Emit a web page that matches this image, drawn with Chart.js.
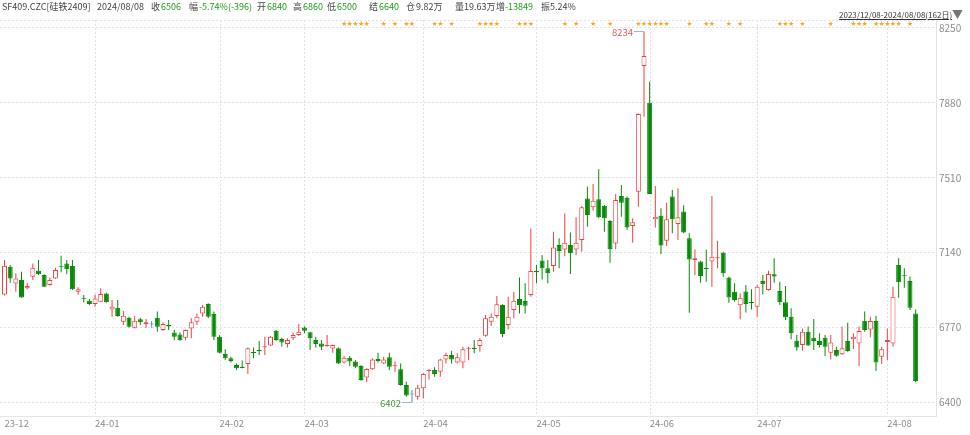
<!DOCTYPE html>
<html>
<head>
<meta charset="utf-8">
<script src="https://cdn.jsdelivr.net/npm/chart.js@4.4.1/dist/chart.umd.min.js"></script>
<style>
    html, body { margin: 0; padding: 0; background: #fff; }
    #wrap { position: relative; width: 970px; height: 435px; overflow: hidden;
            font-family: 'Noto Sans CJK SC', 'Noto Sans', sans-serif; }
    #kline { position: absolute; left: 0; top: 0; }
    .hd { position: absolute; top: 1px; font-size: 9px; line-height: 12px; color: #444; white-space: nowrap; }
    .dn { color: #1f9a1f; }
    .range { position: absolute; left: 839px; top: 9px; font-size: 8px; line-height: 12px; color: #333;
             text-decoration: underline; white-space: nowrap; }
    .tri { position: absolute; left: 952px; top: 8px; font-size: 11px; line-height: 13px; color: #777; }
</style>
</head>
<body>
<div id="wrap">
    <canvas id="kline" width="970" height="435"></canvas>
    <div class="hd" style="left:2px">SF409.CZC[硅铁2409]</div>
    <div class="hd" style="left:97px">2024/08/08</div>
    <div class="hd" style="left:151px">收</div><div class="hd dn" style="left:161px">6506</div>
    <div class="hd" style="left:189px">幅</div><div class="hd dn" style="left:199px">-5.74%(-396)</div>
    <div class="hd" style="left:257px">开</div><div class="hd dn" style="left:267px">6840</div>
    <div class="hd" style="left:293px">高</div><div class="hd dn" style="left:303px">6860</div>
    <div class="hd" style="left:327px">低</div><div class="hd dn" style="left:337px">6500</div>
    <div class="hd" style="left:369px">结</div><div class="hd dn" style="left:379px">6640</div>
    <div class="hd" style="left:406px">仓</div><div class="hd" style="left:416px">9.82万</div>
    <div class="hd" style="left:455px">量</div><div class="hd" style="left:464px">19.63万</div>
    <div class="hd" style="left:496px">增</div><div class="hd dn" style="left:505px">-13849</div>
    <div class="hd" style="left:541px">振</div><div class="hd" style="left:550px">5.24%</div>
    <div class="range">2023/12/08-2024/08/08(162日)</div>
    <div class="tri">▼</div>
</div>
<script>
// daily OHLC, 2023/12/08 .. 2024/08/08 (162 sessions)
const opens = [
    6934, 7071, 6988, 7005, 6964, 7021, 7051, 7030, 6980, 7013, 7071, 7087, 7074, 6947, 6916, 6903,
    6886, 6898, 6939, 6860, 6868, 6799, 6819, 6769, 6811, 6786, 6788, 6819, 6758, 6783, 6746, 6736,
    6720, 6766, 6799, 6840, 6887, 6837, 6725, 6640, 6618, 6585, 6577, 6590, 6649, 6659, 6674, 6681,
    6755, 6714, 6689, 6717, 6733, 6770, 6747, 6709, 6692, 6679, 6667, 6668, 6598, 6621, 6602, 6580,
    6524, 6564, 6615, 6593, 6623, 6580, 6564, 6486, 6442, 6429, 6470, 6556, 6560, 6552, 6613, 6635,
    6597, 6597, 6666, 6671, 6679, 6730, 6799, 6827, 6882, 6783, 6857, 6911, 6901, 6931, 7048, 7101,
    7063, 7074, 7178, 7156, 7178, 7156, 7203, 7408, 7364, 7404, 7372, 7296, 7186, 7420, 7412, 7272,
    7441, 8062, 7881, 7305, 7323, 7199, 7417, 7282, 7343, 7211, 7104, 7096, 7064, 7096, 7112, 7140,
    7018, 6947, 6881, 6948, 6896, 6873, 7000, 6956, 7033, 6951, 6895, 6824, 6705, 6684, 6750, 6720,
    6704, 6720, 6646, 6659, 6638, 6704, 6712, 6692, 6804, 6761, 6803, 6626, 6699, 6692, 7079, 7028,
    7000, 6840,
];
const highs = [
    7104, 7079, 7038, 7046, 6992, 7087, 7104, 7033, 7018, 7066, 7125, 7104, 7104, 6969, 6931, 6911,
    6934, 6964, 6942, 6906, 6906, 6852, 6824, 6827, 6819, 6812, 6803, 6849, 6796, 6807, 6758, 6746,
    6761, 6816, 6840, 6882, 6890, 6849, 6733, 6663, 6626, 6593, 6607, 6672, 6672, 6704, 6725, 6728,
    6758, 6720, 6717, 6745, 6788, 6775, 6750, 6725, 6709, 6733, 6687, 6672, 6630, 6630, 6610, 6584,
    6569, 6618, 6646, 6626, 6646, 6602, 6593, 6503, 6460, 6486, 6544, 6564, 6574, 6616, 6646, 6656,
    6643, 6676, 6676, 6709, 6717, 6832, 6840, 6926, 6885, 6923, 6947, 7018, 6989, 7260, 7079, 7129,
    7104, 7244, 7211, 7334, 7240, 7315, 7371, 7466, 7479, 7552, 7376, 7301, 7430, 7474, 7417, 7310,
    7828, 8234, 7985, 7469, 7359, 7387, 7450, 7458, 7375, 7236, 7156, 7100, 7156, 7420, 7199, 7145,
    7021, 6989, 6939, 6980, 6959, 6980, 7030, 7051, 7112, 6997, 6975, 6865, 6733, 6766, 6775, 6812,
    6742, 6733, 6733, 6676, 6775, 6794, 6742, 6775, 6849, 6824, 6829, 6676, 6766, 6972, 7112, 7063,
    7022, 6860,
];
const lows = [
    6928, 6992, 6947, 6918, 6959, 7005, 7030, 6970, 6977, 7010, 7043, 7033, 6956, 6934, 6895, 6881,
    6873, 6895, 6893, 6824, 6824, 6783, 6771, 6766, 6783, 6769, 6769, 6750, 6753, 6758, 6708, 6705,
    6708, 6717, 6783, 6824, 6816, 6709, 6643, 6610, 6597, 6560, 6569, 6541, 6618, 6635, 6635, 6679,
    6705, 6676, 6672, 6709, 6728, 6742, 6659, 6672, 6659, 6676, 6646, 6590, 6593, 6580, 6569, 6508,
    6500, 6560, 6597, 6590, 6560, 6552, 6483, 6429, 6402, 6415, 6420, 6514, 6527, 6527, 6593, 6593,
    6593, 6569, 6610, 6643, 6651, 6725, 6778, 6816, 6722, 6761, 6816, 6840, 6840, 6923, 6989, 7008,
    6989, 7046, 7063, 7123, 7035, 7128, 7145, 7268, 7348, 7310, 7244, 7090, 7157, 7318, 7252, 7189,
    7367, 7812, 7430, 7265, 7133, 7173, 7236, 7203, 7236, 6843, 7030, 6992, 6997, 6972, 7063, 7021,
    6893, 6898, 6811, 6844, 6860, 6824, 6934, 6952, 6992, 6882, 6808, 6712, 6656, 6656, 6679, 6659,
    6672, 6630, 6613, 6626, 6635, 6651, 6664, 6580, 6750, 6722, 6555, 6590, 6610, 6676, 6918, 6967,
    6857, 6500,
];
const closes = [
    7076, 7013, 7013, 6919, 6975, 7066, 7033, 6972, 7005, 7054, 7069, 7058, 6959, 6959, 6913, 6886,
    6914, 6936, 6895, 6873, 6827, 6829, 6774, 6804, 6796, 6796, 6788, 6774, 6788, 6776, 6725, 6708,
    6758, 6796, 6824, 6873, 6824, 6725, 6646, 6618, 6605, 6569, 6570, 6668, 6646, 6654, 6677, 6725,
    6709, 6696, 6709, 6733, 6750, 6755, 6717, 6689, 6676, 6684, 6684, 6593, 6621, 6602, 6577, 6511,
    6565, 6613, 6605, 6613, 6577, 6583, 6486, 6434, 6442, 6473, 6541, 6559, 6541, 6613, 6635, 6613,
    6623, 6663, 6669, 6664, 6709, 6816, 6824, 6885, 6738, 6824, 6903, 6882, 6878, 7050, 7045, 7063,
    7038, 7166, 7148, 7189, 7137, 7189, 7364, 7326, 7397, 7315, 7310, 7157, 7400, 7387, 7265, 7290,
    7825, 8112, 7430, 7318, 7175, 7305, 7305, 7315, 7240, 7107, 7112, 7025, 7061, 7120, 7117, 7038,
    6919, 6906, 6918, 6887, 6893, 6972, 6984, 7035, 7022, 6895, 6821, 6742, 6672, 6750, 6681, 6704,
    6684, 6676, 6696, 6631, 6668, 6654, 6725, 6753, 6758, 6803, 6597, 6663, 6709, 6923, 6994, 7025,
    6868, 6506,
];

// month starts (session index) and their labels
const monthIdx = [0, 16, 38, 53, 74, 94, 114, 133, 156];
const monthLabels = ['23-12', '24-01', '24-02', '24-03', '24-04', '24-05', '24-06', '24-07', '24-08'];
const yTicks = [6400, 6770, 7140, 7510, 7880, 8250];

// sessions flagged with a star along the top edge
const starIdx = [
    60, 61, 62, 63, 64, 67, 69, 71, 72, 76, 77, 79, 84, 85, 86, 87, 91, 92, 93,
    99, 101, 104, 107, 112, 113, 114, 115, 116, 117, 121, 124, 125, 128, 130,
    137, 138, 139, 141, 146, 150, 151, 152, 154, 155, 156, 157, 158, 160,
];

const UP = '#f23f3f';
const DOWN = '#078a07';
const FLAT = '#5d86ad';
const GRID = '#e1e1e1';
const FONT = "'Noto Sans CJK SC', 'Noto Sans', sans-serif";

const idx = opens.map((_, i) => i);
const tone = i => closes[i] > opens[i] ? UP : (closes[i] < opens[i] ? DOWN : FLAT);

function bodyRange(i) {
    let lo = Math.min(opens[i], closes[i]);
    let hi = Math.max(opens[i], closes[i]);
    if (hi - lo < 5) {
        const mid = (hi + lo) / 2;
        lo = mid - 2.5;
        hi = mid + 2.5;
    }
    return [lo, hi];
}

// hollow body only for rising candles tall enough to show it
const bodyFill = i => (closes[i] - opens[i] >= 10) ? '#ffffff' : tone(i);

// dotted month separators, drawn by hand so only the month starts get one
const monthLines = {
    id: 'monthLines',
    beforeDatasetsDraw(chart) {
        const { ctx, chartArea } = chart;
        const x = chart.scales.x;
        ctx.save();
        ctx.strokeStyle = GRID;
        ctx.lineWidth = 1;
        ctx.setLineDash([2, 2]);
        monthIdx.slice(1).forEach(m => {
            const px = Math.round(x.getPixelForValue(m)) + 0.5;
            ctx.beginPath();
            ctx.moveTo(px, chartArea.top);
            ctx.lineTo(px, chartArea.bottom);
            ctx.stroke();
        });
        ctx.restore();
    },
};

const markers = {
    id: 'markers',
    afterDatasetsDraw(chart) {
        const { ctx, chartArea } = chart;
        const x = chart.scales.x;
        const y = chart.scales.y;
        ctx.save();

        ctx.fillStyle = '#f5a623';
        ctx.font = '7px "DejaVu Sans"';
        ctx.textAlign = 'center';
        ctx.textBaseline = 'middle';
        starIdx.forEach(i => ctx.fillText('★', x.getPixelForValue(i), chartArea.top + 4));

        // highest high and lowest low labels
        const hiVal = Math.max(...highs);
        const loVal = Math.min(...lows);
        const marks = [
            { i: highs.indexOf(hiVal), v: hiVal, color: '#e25c5c' },
            { i: lows.indexOf(loVal), v: loVal, color: '#3f9a3f' },
        ];
        ctx.font = '9.5px ' + FONT;
        ctx.textAlign = 'right';
        marks.forEach(m => {
            const px = x.getPixelForValue(m.i);
            const py = y.getPixelForValue(m.v);
            ctx.strokeStyle = '#8dbde3';
            ctx.lineWidth = 1;
            ctx.beginPath();
            ctx.moveTo(px - 10, Math.round(py) + 0.5);
            ctx.lineTo(px, Math.round(py) + 0.5);
            ctx.stroke();
            ctx.fillStyle = m.color;
            ctx.fillText(String(m.v), px - 11, py + 1);
        });
        ctx.restore();
    },
};

new Chart(document.getElementById('kline'), {
    type: 'bar',
    data: {
        datasets: [
            {
                label: 'wick',
                data: idx.map(i => ({ x: i, y: [lows[i], highs[i]] })),
                backgroundColor: idx.map(tone),
                barThickness: 1,
                grouped: false,
                inflateAmount: 0,
                order: 2,
            },
            {
                label: 'body',
                data: idx.map(i => ({ x: i, y: bodyRange(i) })),
                backgroundColor: idx.map(bodyFill),
                borderColor: idx.map(tone),
                borderWidth: 1,
                borderSkipped: false,
                barThickness: 5,
                grouped: false,
                inflateAmount: 0,
                order: 1,
            },
        ],
    },
    options: {
        responsive: false,
        animation: false,
        events: [],
        layout: { padding: { top: 20, left: 0, right: 0, bottom: 0 } },
        plugins: {
            legend: { display: false },
            tooltip: { enabled: false },
        },
        scales: {
            x: {
                type: 'linear',
                offset: false,
                min: -0.8,
                max: 164.6,
                afterBuildTicks(scale) {
                    scale.ticks = monthIdx.map(v => ({ value: v }));
                },
                afterFit(scale) { scale.height = 19; },
                ticks: {
                    autoSkip: false,
                    maxRotation: 0,
                    align: 'start',
                    padding: 2,
                    color: '#8c8c8c',
                    font: { family: FONT, size: 9.5 },
                    callback: v => monthLabels[monthIdx.indexOf(v)],
                },
                grid: { display: false, drawTicks: false },
                border: { display: true, color: '#e6e6e6' },
            },
            y: {
                position: 'right',
                min: 6333.3,
                max: 8289.5,
                afterBuildTicks(scale) {
                    scale.ticks = yTicks.concat([scale.max]).map(v => ({ value: v }));
                },
                afterFit(scale) { scale.width = 34; },
                ticks: {
                    padding: 3,
                    color: '#8c8c8c',
                    font: { family: FONT, size: 10 },
                    callback: v => yTicks.includes(v) ? String(v) : '',
                },
                grid: { color: GRID, drawTicks: false },
                border: { display: true, color: '#e3e3e3', dash: [2, 2] },
            },
        },
    },
    plugins: [monthLines, markers],
});
</script>
</body>
</html>
